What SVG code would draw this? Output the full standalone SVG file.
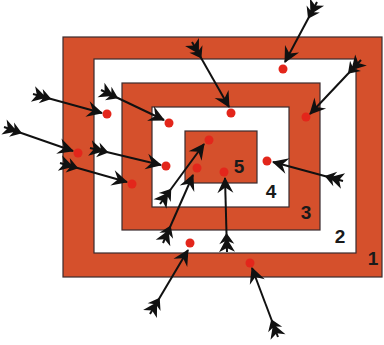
<svg xmlns="http://www.w3.org/2000/svg" width="384" height="345" viewBox="0 0 384 345">
<style>
.red{fill:#d5502c;stroke:#3a2b2e;stroke-width:1.2}
.white{fill:#ffffff;stroke:#3a2b2e;stroke-width:1.2}
.dot{fill:#e3261b}
.arrow{stroke:#111;stroke-width:2;fill:none;marker-start:url(#fletch);marker-end:url(#head)}
.num{font-family:"Liberation Sans",Arial,sans-serif;font-weight:bold;font-size:19px;fill:#1a1a1a;text-anchor:middle}
</style>
<defs>
<marker id="head" markerUnits="userSpaceOnUse" orient="auto" markerWidth="20" markerHeight="20" viewBox="-16 -10 20 20" refX="0" refY="0" overflow="visible">
<path d="M1,0 L-15,-8 L-9.5,0 L-15,8 Z" fill="#111"/>
</marker>
<marker id="fletch" markerUnits="userSpaceOnUse" orient="auto" markerWidth="24" markerHeight="20" viewBox="-4 -10 24 20" refX="0" refY="0" overflow="visible">
<path d="M19,0 L8,-7.5 L10.5,-2 L0,-8 L4,0 L0,8 L10.5,2 L8,7.5 Z" fill="#111"/>
</marker>
</defs>
<g id="ring1"><rect class="red" x="63" y="37" width="319" height="240"/><text class="num" x="373" y="265">1</text></g>
<g id="ring2"><rect class="white" x="94" y="59" width="262" height="194"/><text class="num" x="340" y="243">2</text></g>
<g id="ring3"><rect class="red" x="122" y="83" width="198" height="147"/><text class="num" x="306" y="219">3</text></g>
<g id="ring4"><rect class="white" x="152" y="107" width="137" height="100"/><text class="num" x="271" y="198">4</text></g>
<g id="ring5"><rect class="red" x="185" y="131" width="72" height="52"/><text class="num" x="239" y="173">5</text></g>
<g id="hits">
<circle class="dot" cx="283" cy="69" r="4.5"/>
<circle class="dot" cx="231" cy="113" r="4.5"/>
<circle class="dot" cx="306" cy="117" r="4.5"/>
<circle class="dot" cx="107" cy="114" r="4.5"/>
<circle class="dot" cx="169" cy="123" r="4.5"/>
<circle class="dot" cx="78" cy="153" r="4.5"/>
<circle class="dot" cx="166" cy="166" r="4.5"/>
<circle class="dot" cx="132" cy="184" r="4.5"/>
<circle class="dot" cx="267" cy="161" r="4.5"/>
<circle class="dot" cx="224" cy="172" r="4.5"/>
<circle class="dot" cx="209" cy="140" r="4.5"/>
<circle class="dot" cx="197" cy="168" r="4.5"/>
<circle class="dot" cx="190" cy="243" r="4.5"/>
<circle class="dot" cx="250" cy="263" r="4.5"/>
</g>
<g id="arrows">
<path class="arrow" d="M317,2 L285,62"/>
<path class="arrow" d="M192,42 L229,107"/>
<path class="arrow" d="M361,60 L310,114"/>
<path class="arrow" d="M33,94 L102,113"/>
<path class="arrow" d="M101,90 L164,120"/>
<path class="arrow" d="M4,127 L73,151"/>
<path class="arrow" d="M90,148 L161,165"/>
<path class="arrow" d="M60,163 L127,182"/>
<path class="arrow" d="M343,181 L273,162"/>
<path class="arrow" d="M227,252 L225,178"/>
<path class="arrow" d="M160,204 L204,144"/>
<path class="arrow" d="M163,243 L193,175"/>
<path class="arrow" d="M150,314 L188,250"/>
<path class="arrow" d="M278,337 L252,268"/>
</g>
</svg>
